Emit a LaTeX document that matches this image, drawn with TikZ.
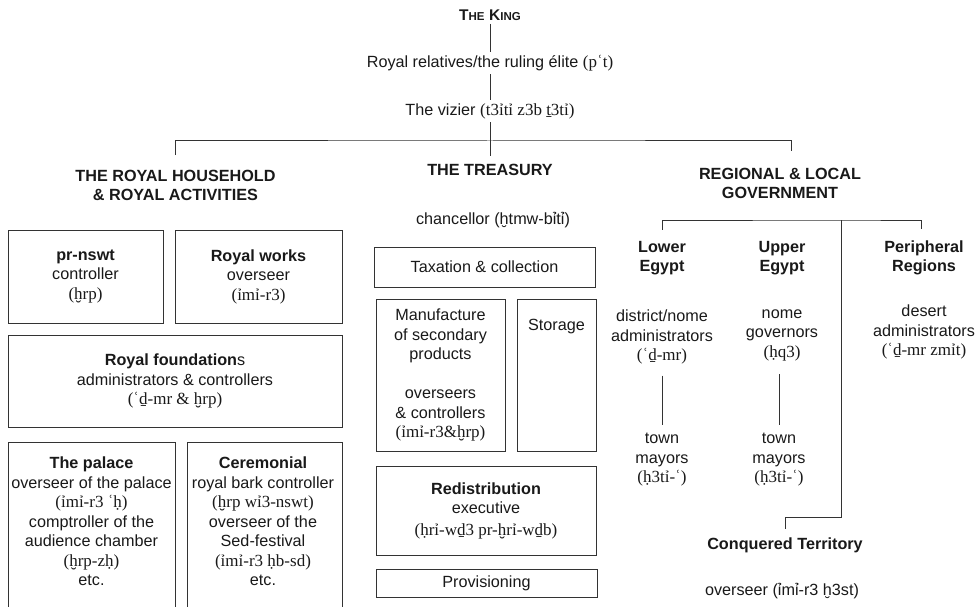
\documentclass[tikz,border=0pt]{standalone}
\usepackage{fontspec}
\setmainfont{Liberation Sans}
\newfontfamily\translit{Liberation Serif}
\usetikzlibrary{positioning}
\newcommand{\egy}[1]{{\fontsize{17}{19.5}\selectfont\translit #1}}
\newcommand{\fsc}[2]{{\fontsize{15.5}{18}\selectfont #1}{\fontsize{11.5}{18}\selectfont #2}}

\begin{document}
\begin{tikzpicture}[x=1pt,y=-1pt,
		every node/.style={font=\fontsize{16.2}{19.5}\selectfont,text=black!90},
		box/.style={rectangle,draw=black!80,line width=1pt,inner sep=0pt,align=center},
		head/.style={font=\fontsize{16.2}{19}\selectfont\bfseries,align=center},
		plain/.style={align=center},
		link/.style={draw=black!80,line width=1pt}]
		\useasboundingbox (0,0) rectangle (975,607);
		\clip (0,0) rectangle (975,607);

		\node[head]   (king)      at (490,15)     {\fsc{T}{HE} \fsc{K}{ING}};
		\node[plain]  (relatives) at (490,63)     {Royal relatives/the ruling élite \egy{(pʿt)}};
		\node[plain]  (vizier)    at (490,111)    {The vizier \egy{(t3ỉtỉ z3b ṯ3tỉ)}};
		\coordinate   (bar)       at (490,141);

		\node[head]   (household) at (175.5,185.5) {THE ROYAL HOUSEHOLD\\\& ROYAL ACTIVITIES};
		\node[head]   (treasury)  at (490,170)    {THE TREASURY};
		\node[head]   (regional)  at (780,183)    {REGIONAL \& LOCAL\\GOVERNMENT};

		\node[box,minimum width=155,minimum height=93] (prnswt) at (85.5,276.5)
			{\textbf{pr-nswt}\\controller\\\egy{(ḫrp)}};
		\node[box,minimum width=167,minimum height=93] (works) at (258.5,276.5)
			{\textbf{Royal works}\\overseer\\\egy{(ỉmỉ-r3)}};
		\node[box,minimum width=334,minimum height=92] (foundations) at (175,381)
			{\textbf{Royal foundation}s\\administrators \& controllers\\\egy{(ʿḏ-mr \& ḫrp)}};
		\node[box,minimum width=167,minimum height=200,anchor=north] (palacebox) at (91.5,442) {};
		\node[plain]  (palace)    at (91.5,521.5)
			{\textbf{The palace}\\overseer of the palace\\\egy{(ỉmỉ-r3 ʿḥ)}\\comptroller of the\\audience chamber\\\egy{(ḫrp-zḥ)}\\etc.};
		\node[box,minimum width=155,minimum height=200,anchor=north] (ceremonialbox) at (264.5,442) {};
		\node[plain]  (ceremonial) at (263,521.5)
			{\textbf{Ceremonial}\\royal bark controller\\\egy{(ḫrp wỉ3-nswt)}\\overseer of the\\Sed-festival\\\egy{(ỉmỉ-r3 ḥb-sd)}\\etc.};

		\node[plain]  (chancellor) at (493,220)   {chancellor (ḫtmw-bỉtỉ)};
		\node[box,minimum width=221,minimum height=40] (taxation) at (484.5,267) {Taxation \& collection};
		\node[box,minimum width=129,minimum height=152] (manufacture) at (440.5,375)
			{Manufacture\\of secondary\\products\\[19.5pt]overseers\\\& controllers\\\egy{(ỉmỉ-r3\&ḫrp)}};
		\node[box,minimum width=79,minimum height=152] (storagebox) at (556.5,375) {};
		\node[plain]  (storage)   at (556.5,327)  {Storage};
		\node[box,minimum width=220,minimum height=89] (redistribution) at (486,510.5)
			{\textbf{Redistribution}\\executive\\[2pt]\egy{(ḥrỉ-wḏ3 pr-ḫrỉ-wḏb)}};
		\node[box,minimum width=221,minimum height=28] (provisioning) at (486.5,583) {Provisioning};

		\coordinate   (subbar)    at (841,220);
		\coordinate   (turn)      at (841,517);
		\node[head]   (lower)     at (662,258)    {Lower\\Egypt};
		\node[head]   (upper)     at (782,258)    {Upper\\Egypt};
		\node[head]   (periph)    at (924,258)    {Peripheral\\Regions};
		\node[plain]  (lowadm)    at (662,337)    {district/nome\\administrators\\\egy{(ʿḏ-mr)}};
		\node[plain]  (upadm)     at (782,335)    {nome\\governors\\\egy{(ḥq3)}};
		\node[plain]  (periphadm) at (924,332)    {desert\\administrators\\\egy{(ʿḏ-mr zmỉt)}};
		\node[plain]  (lowtown)   at (662,460)    {town\\mayors\\\egy{(ḥ3tỉ-ʿ)}};
		\node[plain]  (uptown)    at (779,460)    {town\\mayors\\\egy{(ḥ3tỉ-ʿ)}};
		\node[head]   (conquered) at (785,545)    {Conquered Territory};
		\node[plain]  (overseer)  at (782,591)    {overseer (ỉmỉ-r3 ḫ3st)};

		\draw[link] (king) -- (relatives);
		\draw[link] (relatives) -- (vizier);
		\draw[link,shorten >=4.5pt] (vizier) -- (treasury);
		\draw[link,shorten <=11.7pt,shorten >=13pt] (household.north) |- (bar) -| ([xshift=11pt]regional.north);
		\draw[link,shorten <=8pt,shorten >=8pt] (lower.north) |- (subbar) -| ([xshift=-3pt]periph.north);
		\draw[link,shorten >=5pt] (subbar) |- (turn) -| (conquered.north);
		\draw[link,shorten <=8pt,shorten >=5pt] (lowadm) -- (lowtown);
		\draw[link,shorten <=10pt,shorten >=5pt] (upadm.south -| uptown.north) -- (uptown.north);
\end{tikzpicture}
\end{document}
